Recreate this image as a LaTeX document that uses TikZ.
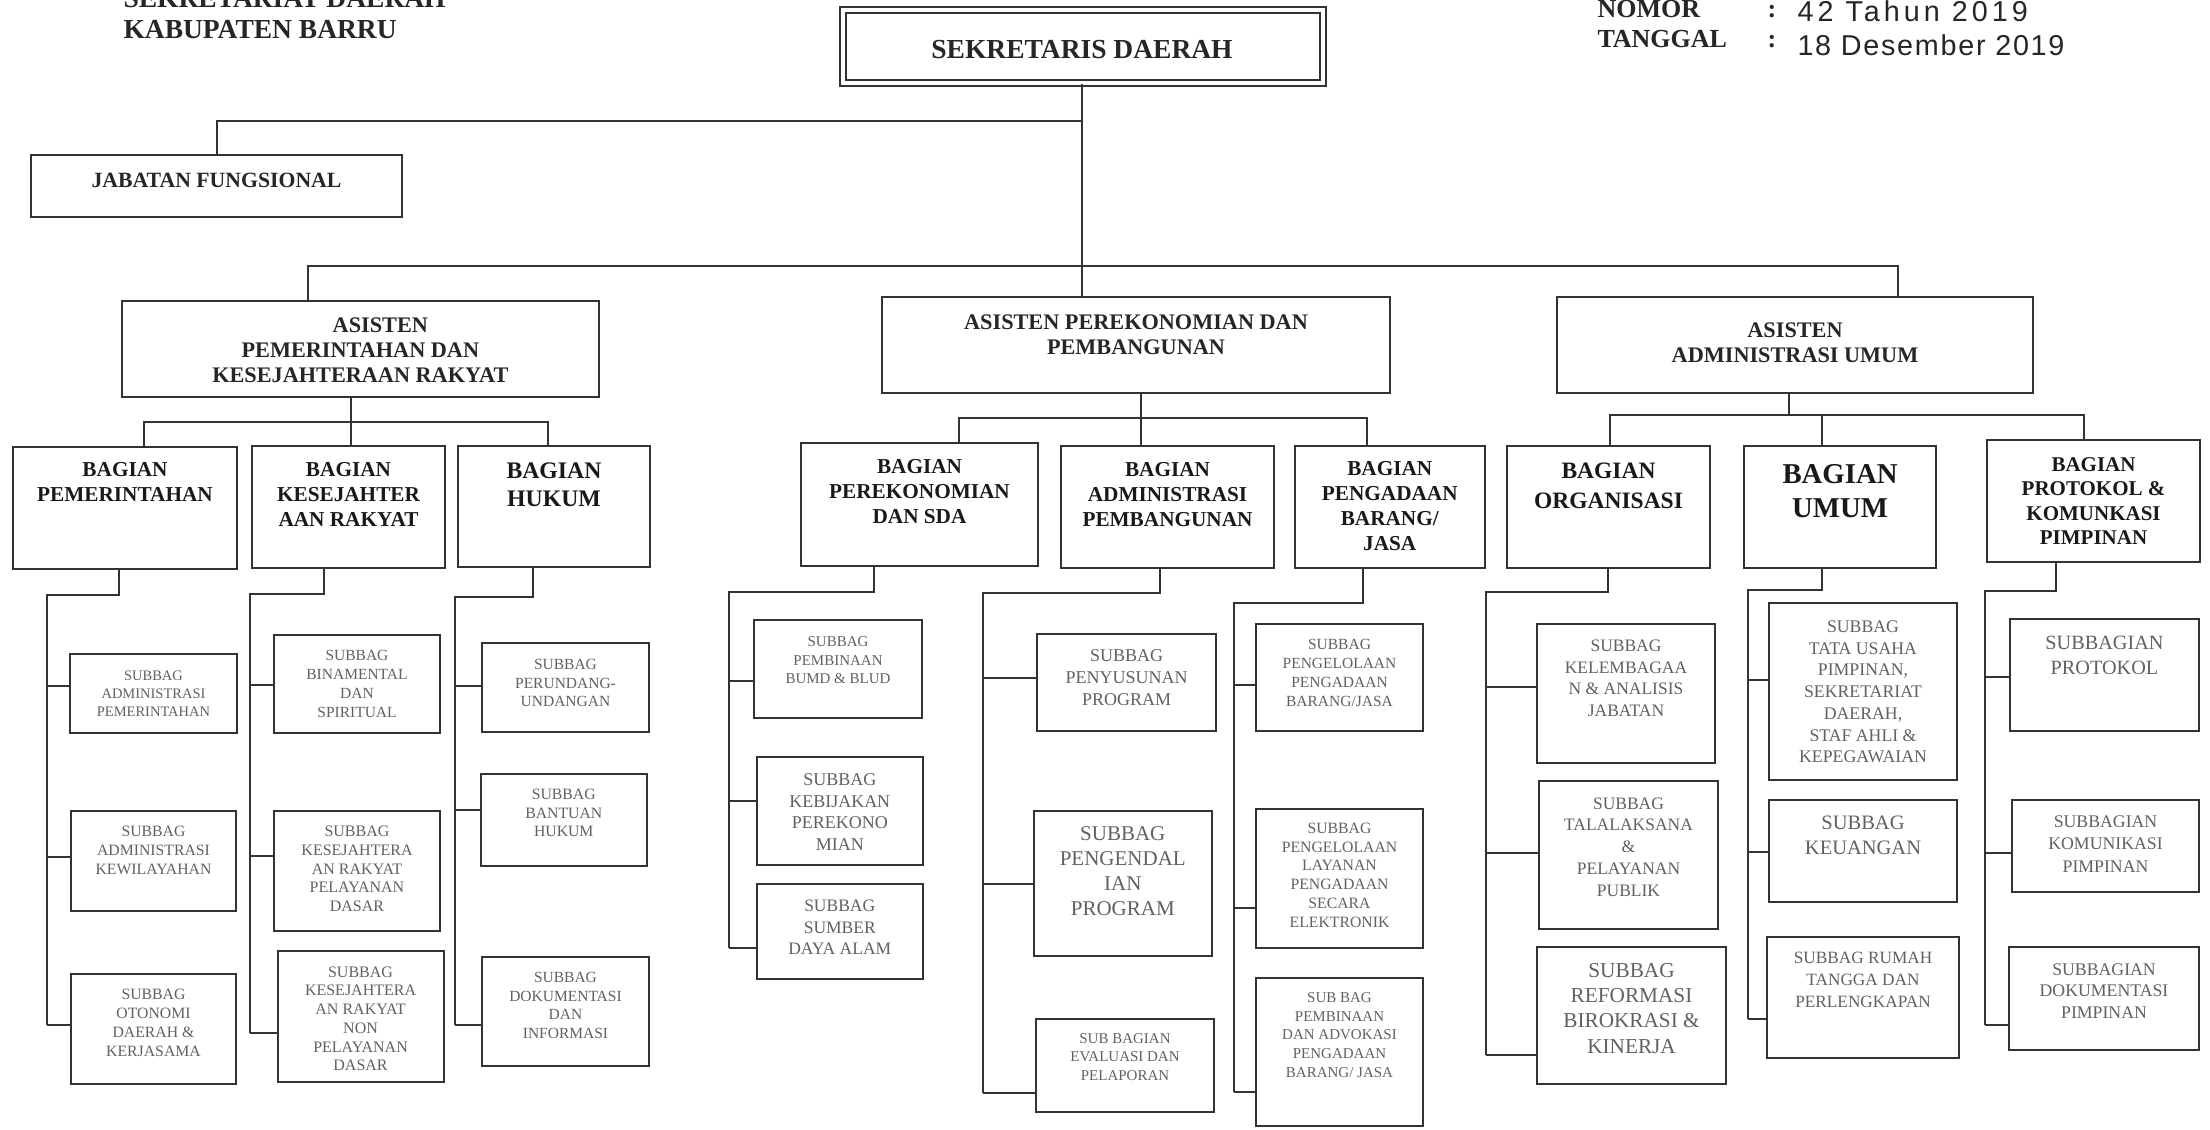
\documentclass[tikz,border=0pt]{standalone}
\usepackage{fontspec}
\setmainfont{Liberation Serif}
\newfontfamily\handfont[LetterSpace=6]{Liberation Sans}
\newfontfamily\handwide[LetterSpace=14]{Liberation Sans}
\usetikzlibrary{fit}
\tikzset{
 ln/.style={draw=black!80, line width=0.8pt},
 bx/.style={draw=black!80, line width=0.8pt, rectangle, inner sep=0pt},
 hd/.style={font=\bfseries\fontsize{11}{13}\selectfont, text=black!85, inner sep=0pt},
 nm/.style={font=\bfseries\fontsize{10.4}{12}\selectfont, text=black!85, inner sep=0pt},
 hw/.style={font=\handfont\fontsize{11.5}{13}\selectfont, text=black!85, inner sep=0pt},
 as/.style={font=\bfseries\fontsize{8.9}{10}\selectfont, align=center, text=black!85, inner sep=0pt},
 bg/.style={font=\bfseries\fontsize{8.5}{10}\selectfont, align=center, text=black!90, inner sep=0pt},
 sb/.style={align=center, text=black!62, inner sep=0pt},
}
\newcommand\fsz[2]{\fontsize{#1}{#2}\selectfont}
% name, x1, y1, x2, y2, text style, text centre y, text
\newcommand\bxt[8]{%
 \node[bx, fit={(#2,#3) (#4,#5)}] (#1) {};
 \node[#6] (#1t) at (#1.center |- 0,#7) {#8};}
% bag, drop x, elbow y, trunk x, last y
\newcommand\trunk[5]{\draw[ln] (#1.south -| #2,0) -- (#2,#3) -- (#4,#3) -- (#4,#5);}
% trunk x, y, sub node
\newcommand\br[3]{\draw[ln] (#1,#2) -- (#3.west |- 0,#2);}
% asisten, x, y, left bag, xl, mid bag, xm, right bag, xr
\newcommand\grp[9]{%
 \draw[ln] (#1.south -| #2,0) -- (#2,#3);
 \draw[ln] (#4.north -| #5,0) -- (#5,#3) -- (#9,#3) -- (#8.north -| #9,0);
 \draw[ln] (#7,#3) -- (#6.north -| #7,0);}
\begin{document}
\begin{tikzpicture}[x=0.4pt,y=-0.4pt]
\useasboundingbox (0,0) rectangle (2210,1129);
\fill[white] (0,0) rectangle (2210,1129);

% header texts
\node[hd, anchor=base west] (t1) at (123,7) {SEKRETARIAT DAERAH};
\node[hd, anchor=base west] (t2) at (123,38) {KABUPATEN BARRU};
\node[nm, anchor=base west] (nom) at (1597,17) {NOMOR};
\node[nm, anchor=base west] (tgl) at (1597,47) {TANGGAL};
\node[nm, anchor=base] (c1) at (1772,17) {:};
\node[nm, anchor=base] (c2) at (1772,47) {:};
\node[hw, font=\handwide\fsz{11.5}{13}, anchor=base west] (h1) at (1797,21) {42 Tahun 2019};
\node[hw, anchor=base west] (h2) at (1797,55) {18 Desember 2019};

% sekretaris daerah
\node[bx, double, double distance=1.6pt, fit={(843,10) (1323,83)}] (sekda) {};
\node[hd] (sekdat) at (1082,50) {SEKRETARIS DAERAH};

% jabatan fungsional
\bxt{jab}{31}{155}{402}{217}{hd, font=\bfseries\fsz{8.7}{10}}{180}{JABATAN FUNGSIONAL}

% asisten
\bxt{a1}{121.7}{300.7}{599}{396.7}{as}{350}{\hspace*{16pt}ASISTEN\\PEMERINTAHAN DAN\\KESEJAHTERAAN RAKYAT}
\bxt{a2}{882}{297}{1390}{393}{as}{334.5}{ASISTEN PEREKONOMIAN DAN\\PEMBANGUNAN}
\bxt{a3}{1557}{297}{2033}{393}{as}{342.5}{ASISTEN\\ADMINISTRASI UMUM}

% top connectors
\draw[ln] (sekda.south -| 1082,0) -- (a2.north -| 1082,0);
\coordinate (jl) at (1082,121);
\draw[ln] (jl) -| (jab.north);
\draw[ln] (a1.north -| 308,0) -- (308,265.5) -| (a3.north -| 1898,0);

% bagian
\bxt{b1}{13}{447}{237}{569}{bg}{482.2}{BAGIAN\\PEMERINTAHAN}
\bxt{b2}{252}{446}{445}{568}{bg}{494.6}{BAGIAN\\KESEJAHTER\\AAN RAKYAT}
\bxt{b3}{458}{446}{650}{567}{bg, font=\bfseries\fsz{9.5}{11.4}}{484.9}{BAGIAN\\HUKUM}
\bxt{b4}{801}{443}{1038}{566}{bg}{491.9}{BAGIAN\\PEREKONOMIAN\\DAN SDA}
\bxt{b5}{1061}{446}{1274}{568}{bg}{494.2}{BAGIAN\\ADMINISTRASI\\PEMBANGUNAN}
\bxt{b6}{1294.5}{446}{1485}{568}{bg}{506.1}{BAGIAN\\PENGADAAN\\BARANG/\\JASA}
\bxt{b7}{1507}{446}{1710}{568}{bg, font=\bfseries\fsz{9.4}{12}}{485.6}{BAGIAN\\ORGANISASI}
\bxt{b8}{1744}{446}{1936}{568}{bg, font=\bfseries\fsz{11.5}{13.7}}{491.3}{BAGIAN\\UMUM}
\bxt{b9}{1987}{440}{2200}{562}{bg, font=\bfseries\fsz{8.4}{9.8}}{500.8}{BAGIAN\\PROTOKOL \&\\KOMUNKASI\\PIMPINAN}

% group connectors
\grp{a1}{351}{422}{b1}{143.5}{b2}{351}{b3}{548}
\grp{a2}{1141}{418}{b4}{958.5}{b5}{1141}{b6}{1366.7}
\grp{a3}{1789}{415}{b7}{1610}{b8}{1822}{b9}{2083.5}

% subbagian
\bxt{s11}{70}{654}{237}{733}{sb, font=\fsz{5.8}{7.2}}{693.6}{SUBBAG\\ADMINISTRASI\\PEMERINTAHAN}
\bxt{s12}{71}{811}{236}{911}{sb, font=\fsz{6.3}{7.6}}{850.3}{SUBBAG\\ADMINISTRASI\\KEWILAYAHAN}
\bxt{s13}{71}{974}{236}{1084}{sb, font=\fsz{6.3}{7.5}}{1022.9}{SUBBAG\\OTONOMI\\DAERAH \&\\KERJASAMA}

\bxt{s21}{274}{635}{440}{733}{sb, font=\fsz{6.2}{7.5}}{683.8}{SUBBAG\\BINAMENTAL\\DAN\\SPIRITUAL}
\bxt{s22}{274}{811}{440}{931}{sb, font=\fsz{6.4}{7.5}}{868.8}{SUBBAG\\KESEJAHTERA\\AN RAKYAT\\PELAYANAN\\DASAR}
\bxt{s23}{277.5}{951}{443.6}{1082}{sb, font=\fsz{6.4}{7.5}}{1018.7}{SUBBAG\\KESEJAHTERA\\AN RAKYAT\\NON\\PELAYANAN\\DASAR}

\bxt{s31}{482}{643}{649}{732}{sb, font=\fsz{6.2}{7.5}}{683}{SUBBAG\\PERUNDANG-\\UNDANGAN}
\bxt{s32}{481}{774}{646.5}{866}{sb, font=\fsz{6.3}{7.5}}{813}{SUBBAG\\BANTUAN\\HUKUM}
\bxt{s33}{482}{957}{649}{1066}{sb, font=\fsz{6.2}{7.5}}{1005.3}{SUBBAG\\DOKUMENTASI\\DAN\\INFORMASI}

\bxt{s41}{754}{620}{922}{718}{sb, font=\fsz{6.0}{7.4}}{660.1}{SUBBAG\\PEMBINAAN\\BUMD \& BLUD}
\bxt{s42}{756.5}{757}{923}{865}{sb, font=\fsz{7.2}{8.6}}{811.8}{SUBBAG\\KEBIJAKAN\\PEREKONO\\MIAN}
\bxt{s43}{756.5}{883.5}{923}{979}{sb, font=\fsz{7.0}{8.6}}{927.6}{SUBBAG\\SUMBER\\DAYA ALAM}

\bxt{s51}{1037}{634}{1216}{731}{sb, font=\fsz{7.2}{8.7}}{677.7}{SUBBAG\\PENYUSUNAN\\PROGRAM}
\bxt{s52}{1033.5}{811}{1212}{956}{sb, font=\fsz{8.4}{10}}{871.5}{SUBBAG\\PENGENDAL\\IAN\\PROGRAM}
\bxt{s53}{1036}{1019}{1214}{1112}{sb, font=\fsz{6.0}{7.4}}{1057}{SUB BAGIAN\\EVALUASI DAN\\PELAPORAN}

\bxt{s61}{1256}{624}{1423}{731}{sb, font=\fsz{6.2}{7.6}}{673}{SUBBAG\\PENGELOLAAN\\PENGADAAN\\BARANG/JASA}
\bxt{s62}{1256}{809}{1423}{948}{sb, font=\fsz{6.3}{7.5}}{875.1}{SUBBAG\\PENGELOLAAN\\LAYANAN\\PENGADAAN\\SECARA\\ELEKTRONIK}
\bxt{s63}{1256}{978}{1423}{1126}{sb, font=\fsz{6.0}{7.5}}{1034.9}{SUB BAG\\PEMBINAAN\\DAN ADVOKASI\\PENGADAAN\\BARANG/ JASA}

\bxt{s71}{1537}{623.5}{1715}{763}{sb, font=\fsz{7.0}{8.6}}{678.4}{SUBBAG\\KELEMBAGAA\\N \& ANALISIS\\JABATAN}
\bxt{s72}{1539}{781}{1718}{929}{sb, font=\fsz{7.0}{8.7}}{846.8}{SUBBAG\\TALALAKSANA\\\&\\PELAYANAN\\PUBLIK}
\bxt{s73}{1537}{947}{1726}{1084}{sb, font=\fsz{8.5}{10.1}}{1008.3}{SUBBAG\\REFORMASI\\BIROKRASI \&\\KINERJA}

\bxt{s81}{1769}{603}{1957}{780}{sb, font=\fsz{7.1}{8.7}}{691.8}{SUBBAG\\TATA USAHA\\PIMPINAN,\\SEKRETARIAT\\DAERAH,\\STAF AHLI \&\\KEPEGAWAIAN}
\bxt{s82}{1769}{800}{1957}{901.5}{sb, font=\fsz{8.2}{10}}{834.9}{SUBBAG\\KEUANGAN}
\bxt{s83}{1767}{937}{1959}{1057.5}{sb, font=\fsz{6.9}{8.7}}{979.9}{SUBBAG RUMAH\\TANGGA DAN\\PERLENGKAPAN}

\bxt{s91}{2010}{619}{2199}{730.6}{sb, font=\fsz{8.1}{10.1}}{655.2}{SUBBAGIAN\\PROTOKOL}
\bxt{s92}{2012}{800}{2199}{891.6}{sb, font=\fsz{7.1}{9}}{844}{SUBBAGIAN\\KOMUNIKASI\\PIMPINAN}
\bxt{s93}{2009}{947}{2199}{1050}{sb, font=\fsz{7.1}{8.6}}{990.8}{SUBBAGIAN\\DOKUMENTASI\\PIMPINAN}

% trunks and branches
\trunk{b1}{119.4}{595}{47.2}{1024.5}
\br{47.2}{685.9}{s11}\br{47.2}{857.2}{s12}\br{47.2}{1024.5}{s13}
\trunk{b2}{323.7}{594.1}{250}{1032.7}
\br{250}{684.5}{s21}\br{250}{856.3}{s22}\br{250}{1032.7}{s23}
\trunk{b3}{533.3}{597.2}{454.5}{1025}
\br{454.5}{685.9}{s31}\br{454.5}{809.8}{s32}\br{454.5}{1025}{s33}
\trunk{b4}{873.6}{591.8}{729}{948.1}
\br{729}{681.3}{s41}\br{729}{801.2}{s42}\br{729}{948.1}{s43}
\trunk{b5}{1160}{592.7}{983}{1092.8}
\br{983}{677.7}{s51}\br{983}{884.4}{s52}\br{983}{1092.8}{s53}
\trunk{b6}{1363}{603.1}{1234}{1092.4}
\br{1234}{685.4}{s61}\br{1234}{908.3}{s62}\br{1234}{1092.4}{s63}
\trunk{b7}{1608.3}{591.8}{1485.6}{1055.3}
\br{1485.6}{686.8}{s71}\br{1485.6}{853.2}{s72}\br{1485.6}{1055.3}{s73}
\trunk{b8}{1821.6}{589.6}{1747.5}{1019.1}
\br{1747.5}{680}{s81}\br{1747.5}{851.8}{s82}\br{1747.5}{1019.1}{s83}
\trunk{b9}{2056}{590.5}{1985.3}{1024.5}
\br{1985.3}{676.8}{s91}\br{1985.3}{852.7}{s92}\br{1985.3}{1024.5}{s93}
\end{tikzpicture}
\end{document}
